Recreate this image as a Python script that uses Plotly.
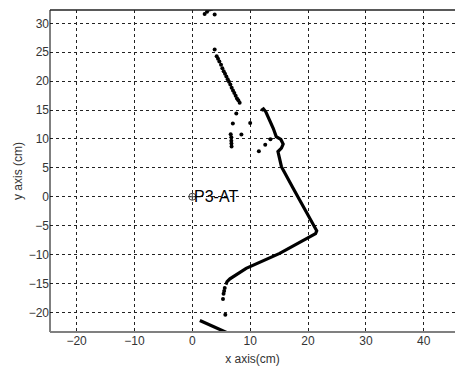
import plotly.graph_objects as go

# Isolated scan dots
dots_x = [2.13, 2.54, 3.0, 3.3, 3.86,
          3.86, 4.21, 4.44, 4.67, 4.96, 5.19, 5.42, 5.65, 5.88, 6.11, 6.34, 6.57,
          6.80, 7.03, 7.26, 7.49, 7.72, 7.95, 8.18,
          7.6, 7.0, 10.0, 6.63, 6.74, 6.74, 6.76, 6.78, 8.48, 13.5, 12.6, 11.5,
          5.6, 5.5, 5.4, 5.3, 5.7]
dots_y = [31.6, 32.0, 32.4, 32.5, 31.5,
          25.46, 24.31, 23.85, 23.39, 22.82, 22.24, 21.72, 21.26, 20.80, 20.34, 19.89, 19.43,
          18.85, 18.39, 17.93, 17.47, 17.01, 16.67, 16.26,
          14.4, 12.65, 12.76, 10.8, 10.3, 9.7, 9.2, 8.7, 10.75, 9.95, 8.97, 7.88,
          -15.8, -16.3, -16.8, -17.7, -20.4]

# Dense wall segments (vertices)
wall_x = [11.9, 12.3, 12.7, 13.4, 14.0, 14.5, 15.3, 15.7, 15.4, 14.8, 15.0, 15.4,
          17.4, 19.3, 21.5, 21.3, 15.1, 9.3, 6.5, 6.0, 5.8,
          None, 1.3, 5.9, 6.4]
wall_y = [14.9, 15.2, 14.7, 13.2, 11.8, 10.4, 9.9, 9.1, 8.4, 7.8, 6.9, 5.2,
          1.5, -2.0, -5.9, -6.4, -9.8, -12.4, -14.2, -14.7, -15.2,
          None, -21.4, -23.4, -23.7]

robot_x = [0]
robot_y = [0]
robot_label = "P3-AT"

x_ticks = [-20, -10, 0, 10, 20, 30, 40]
y_ticks = [-20, -15, -10, -5, 0, 5, 10, 15, 20, 25, 30]

fig = go.Figure()
fig.add_trace(go.Scatter(x=wall_x, y=wall_y, mode="lines",
                         line=dict(color="black", width=3.2),
                         hoverinfo="skip", showlegend=False))
fig.add_trace(go.Scatter(x=dots_x, y=dots_y, mode="markers",
                         marker=dict(color="black", size=4),
                         showlegend=False))
fig.add_trace(go.Scatter(x=robot_x, y=robot_y, mode="markers",
                         marker=dict(symbol="circle-cross-open", color="#444", size=7,
                                     line=dict(width=1)),
                         showlegend=False))
fig.add_annotation(x=robot_x[0], y=robot_y[0], text=robot_label, showarrow=False,
                   xanchor="left", yanchor="middle", xshift=0,
                   font=dict(family="Liberation Sans, Arial", size=16, color="black"))

axis_common = dict(showline=False, zeroline=False, showgrid=True, automargin=False,
                   gridcolor="#222", griddash="3px,3px", gridwidth=1,
                   ticks="inside", ticklen=3, tickcolor="#222",
                   tickfont=dict(family="Liberation Sans, Arial", size=12, color="#333"),
                   title_font=dict(family="Liberation Sans, Arial", size=12, color="#333"))

fig.update_xaxes(range=[-24.6, 45.4], tickvals=x_ticks, title_text="x axis(cm)",
                 title_standoff=7, **axis_common)
fig.update_yaxes(range=[-23.4, 32.3], tickvals=y_ticks, title_text="y axis (cm)",
                 title_standoff=3, **axis_common)

# frame lines
fig.add_shape(type="line", xref="paper", yref="paper", x0=0, x1=0, y0=0, y1=1,
              line=dict(color="black", width=1))
fig.add_shape(type="line", xref="paper", yref="paper", x0=0, x1=1, y0=1, y1=1,
              line=dict(color="#222", width=1.5))
fig.add_shape(type="line", xref="paper", yref="paper", x0=0, x1=1, y0=0, y1=0,
              line=dict(color="#808080", width=2))

fig.update_layout(width=455, height=371,
                  margin=dict(l=50, r=0, t=9.5, b=38.5),
                  paper_bgcolor="white", plot_bgcolor="white")

fig.write_html("out.html", config={"displayModeBar": False},
               post_script="document.body.style.margin='0';document.body.style.overflow='hidden';")
